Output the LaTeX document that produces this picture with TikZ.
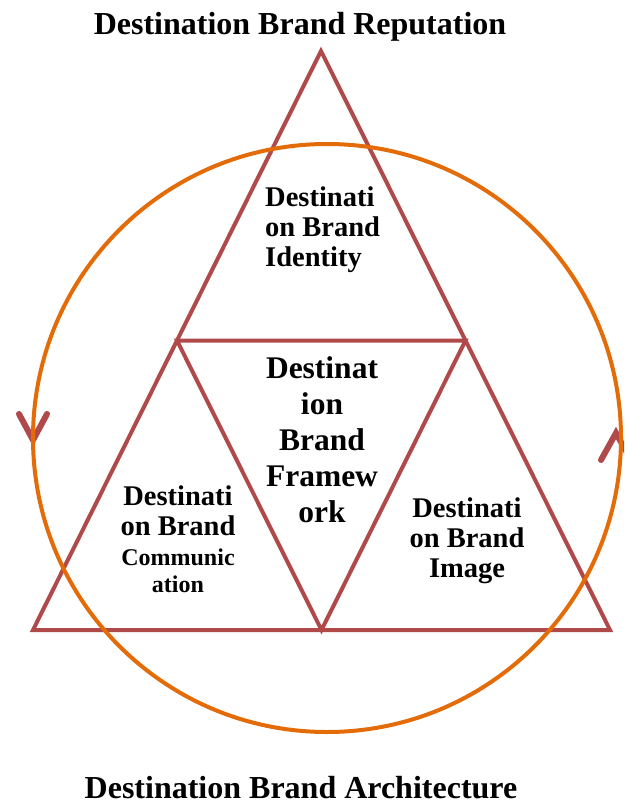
\documentclass[tikz,border=0pt]{standalone}
\usepackage{fontspec}
\setmainfont{Liberation Serif}
\usetikzlibrary{calc}
\definecolor{tri}{HTML}{B04A4A}
\definecolor{ring}{HTML}{E36C09}
\begin{document}
\begin{tikzpicture}[x=1pt,y=-1pt,
  triline/.style={draw=tri, line width=4pt, line join=miter},
  ringline/.style={draw=ring, line width=4pt},
  tipline/.style={draw=tri, line width=6pt, line cap=round, line join=miter},
  lbl/.style={inner sep=0pt, font=\bfseries\fontsize{28.5}{30}\selectfont, align=center, anchor=north},
  bigl/.style={inner sep=0pt, font=\bfseries\fontsize{31.5}{36}\selectfont, align=center, anchor=north},
  title/.style={inner sep=0pt, font=\bfseries\fontsize{32}{36}\selectfont, anchor=base}]
\clip (0,0) rectangle (624,805);
\fill[white] (0,0) rectangle (624,805);
% triangle corners and midpoints
\coordinate (A) at (321,51);
\coordinate (B) at (33,630);
\coordinate (C) at (610,630);
\coordinate (AB) at ($(A)!0.5!(B)$);
\coordinate (AC) at ($(A)!0.5!(C)$);
\coordinate (BC) at ($(B)!0.5!(C)$);
\draw[triline] (A) -- (B) -- (C) -- cycle;
\draw[triline] (AB) -- (AC) -- (BC) -- cycle;
% direction marks on the ring
\coordinate (Ltip) at (33,440);
\coordinate (Rtip) at (616,433);
\draw[tipline] (19,414) -- (Ltip) -- (47,414);
\draw[tipline] (601,460) -- (Rtip) -- (631,460);
% ring
\coordinate (O) at (327,438);
\draw[ringline] (O) circle (294);
% labels
\node[title] (rep) at (300,35) {Destination Brand Reputation};
\node[title] (arch) at (301,798) {Destination Brand Architecture};
\node[lbl, align=left, anchor=north west] (ident) at (265,187) {Destinati\\on Brand\\Identity};
\node[lbl] (comm) at (178,486) {Destinati\\on Brand\\{\fontsize{24}{25}\selectfont Communic}\\[-3pt]{\fontsize{24}{25}\selectfont ation}};
\node[lbl] (img) at (467,498) {Destinati\\on Brand\\Image};
\node[bigl] (frame) at (322,356) {Destinat\\ion\\Brand\\Framew\\ork};
\end{tikzpicture}
\end{document}
